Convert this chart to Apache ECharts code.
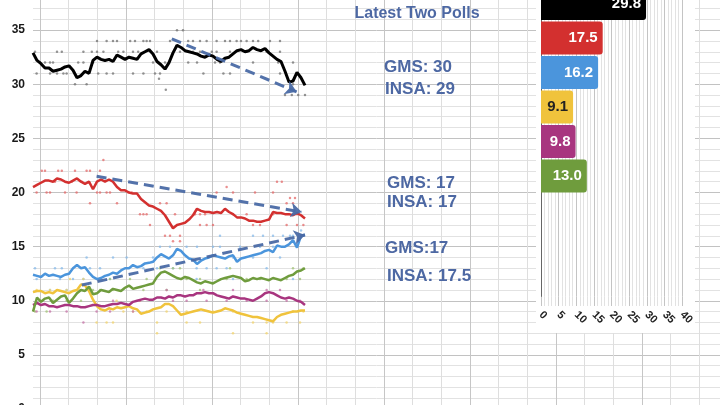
<!DOCTYPE html>
<html>
<head>
<meta charset="utf-8">
<script src="https://cdn.jsdelivr.net/npm/echarts@6/dist/echarts.min.js"></script>
<style>
  html, body { margin: 0; padding: 0; background: #fff; }
  #chart { width: 720px; height: 405px; }
</style>
</head>
<body>
<div id="chart"></div>
<script>
// rolling averages, one value per step (oldest -> newest)
const cduAvg = [32.9,32.2,31.9,31.5,31.5,31.2,31.3,31.4,31.6,31.7,31.3,30.6,30.8,31.2,31.0,32.2,32.5,32.3,32.2,32.3,32.1,32.7,32.5,32.3,32.5,32.4,32.3,32.8,33.0,33.2,32.8,32.1,31.8,31.4,32.0,32.9,33.6,33.4,33.1,33.0,32.9,32.8,32.6,32.5,32.7,32.6,32.3,32.1,32.4,32.5,32.8,33.1,33.2,33.0,33.1,33.4,33.2,33.1,33.3,32.9,32.6,32.3,32.1,31.2,30.2,30.3,31.1,30.6,29.9];
const spdAvg = [20.5,20.7,20.9,21.1,21.1,21.0,21.3,21.2,21.0,20.9,21.1,21.3,21.0,20.8,21.0,20.3,21.0,21.2,21.0,21.2,21.0,20.5,20.2,20.2,20.0,19.9,19.9,19.4,19.1,18.8,18.7,18.5,18.3,17.9,17.3,16.7,17.0,17.1,17.2,17.5,17.9,18.5,18.3,18.2,18.2,18.1,18.2,18.1,18.5,18.2,18.0,17.7,17.7,17.6,17.4,17.4,17.3,17.3,17.4,17.5,18.2,18.1,18.1,18.0,18.0,17.9,18.1,17.9,17.6];
const afdAvg = [12.4,12.3,12.2,12.5,12.3,12.4,12.3,12.2,12.4,12.5,13.0,13.3,13.0,13.1,12.6,12.2,12.0,12.1,12.3,12.4,12.6,12.5,12.8,13.0,13.0,13.3,13.1,13.2,13.45,13.5,13.6,14.0,14.3,14.1,13.9,14.2,14.8,14.6,14.2,13.9,13.8,13.4,13.7,13.9,14.0,14.2,14.1,14.0,13.9,14.1,14.2,13.6,13.9,14.0,14.1,14.2,14.3,14.4,14.6,14.7,14.5,15.1,15.0,15.0,15.2,15.6,14.9,16.0,16.1];
const grueneAvg = [9.0,10.3,9.9,10.2,10.3,9.8,10.1,10.4,10.5,9.8,10.2,10.7,11.0,10.9,11.3,10.6,10.7,11.0,10.9,10.8,11.1,11.0,10.9,11.2,11.4,11.1,11.2,11.3,11.4,11.5,11.6,12.2,12.6,12.7,12.5,12.3,12.1,12.0,12.2,12.1,11.9,11.7,11.6,11.8,11.7,11.6,11.8,12.0,12.1,12.2,12.3,12.2,12.1,11.8,11.9,12.1,12.0,12.1,12.0,11.9,12.1,12.0,11.9,12.1,12.3,12.4,12.7,12.8,13.0];
const fdpAvg = [10.8,10.9,10.9,10.7,10.8,10.7,11.0,10.9,10.8,10.7,10.9,11.0,11.5,11.4,10.9,10.1,9.5,9.2,9.1,9.3,9.2,9.4,9.3,9.4,9.5,9.3,9.2,8.8,8.9,9.0,9.2,9.3,9.4,9.7,9.7,9.5,9.1,8.7,8.8,8.9,9.0,9.1,9.2,9.1,9.0,8.9,9.0,9.1,9.3,9.2,9.1,8.9,8.8,8.7,8.6,8.5,8.5,8.4,8.3,8.2,8.1,8.5,8.7,8.8,8.9,9.0,9.0,9.1,9.1];
const linkeAvg = [9.6,9.8,9.6,9.7,9.5,9.5,9.4,9.5,9.6,9.6,9.5,9.5,9.4,9.4,9.5,9.6,9.6,9.5,9.5,9.6,9.7,9.7,9.8,9.7,9.6,9.9,10.0,10.1,10.2,10.1,10.1,10.3,10.3,10.2,10.4,10.3,10.5,10.5,10.4,10.5,10.5,10.7,10.7,10.8,10.7,10.7,10.5,10.4,10.3,10.2,10.4,10.3,10.2,10.2,10.1,10.0,10.2,10.4,10.7,10.8,10.7,10.5,10.3,10.2,10.3,10.2,10.0,9.9,9.6];

// single polls: [step, value]
const cduPolls = [[36,35],[37.5,35],
  [16,34],[18.4,34],[20,34],[21,34],[24.3,34],[25.5,34],[27.6,34],[28.4,34],[29.25,34],[34.25,34],[38.8,34],[40,34],[41.75,34],[43.4,34],[45.9,34],[48,34],[49.25,34],[50.9,34],[52,34],[53.4,34],[55,34],[56.3,34],[59.25,34],[61.75,34],
  [0.5,33],[6,33],[7.2,33],[12.6,33],[14.7,33],[16,33],[17.6,33],[21.3,33],[22.6,33],[25,33],[26.3,33],[31,33],[36.75,33],[40,33],[41.75,33],[44.7,33],[45.9,33],[49.25,33],[53.4,33],[58.4,33],[61.75,33],
  [1.75,32],[3,32],[4.25,32],[5,32],[11.3,32],[12.6,32],[15,32],[30,32],[33,32],[38.8,32],[41,32],[45.5,32],[46.75,32],[55,32],[61.3,32],[65,32],
  [0.9,31],[4.25,31],[6,31],[7.6,31],[8.4,31],[16.3,31],[18.4,31],[20,31],[25,31],[27.6,31],[30.5,31],[31.75,31],[42.6,31],[47.6,31],[49.25,31],[61.75,31],
  [31.5,30.5],[10.5,30],[13.4,30],[65,30],[33.2,29.5],[63,29],[64.7,29],[66.3,29],[68,29]];
const spdPolls = [[2.2,22],[3,22],[6.3,22],[7.2,22],[10.5,22],[13.4,22],[14.25,22],[16.75,22],[17.6,23],
  [0.9,20],[3.4,20],[4.25,20],[8,20],[10.9,20],[16,20],[16.75,20],[18.4,20],[19.25,20],[23.8,20],[24.7,20],[45.9,20],[50,20],[55.5,20],[60,20],
  [5.5,21],[9.7,21],[12.2,21],[61,21],[62.2,21],[48.4,20.5],
  [14.25,19],[21,19],[31.75,19],[33.4,19],[63.4,19],[65,19],[64.25,19.5],[65.5,19.5],
  [26.75,18],[27.6,18],[28.4,18],[35.5,18],[40.5,18],[41.75,18],[43,18],[50,18],[53.4,18],[60,18],[66,18],
  [29.25,17],[41.75,17],[43.4,17],[45,17],[55,17],[56.75,17],[63.4,17],[66,17],[67.6,17],
  [33,16],[34.25,16],[36.75,16],[35,15.5],[36.75,15.5]];
const afdPolls = [[46.75,16],[55,16],[57.5,16],[60,16],[62.5,16],[64.25,16],[65,16],[67,16.5],
  [31.75,15],[34.25,15],[38.4,15],[41,15],[45,15],[46.75,15],[51.75,15],[56.75,15],[60,15],[66,15],
  [13.4,14],[20,14],[23.4,14],[30,14],[50,14],[55,14],[61.75,14],
  [0.5,13],[5.5,13],[7.2,13],[14.25,13],[16.75,13],[27.6,13],[31,13],[35,13],[40.9,13],[43.4,13],[45.9,13],[48.4,13],[58.4,13],
  [0.9,12],[6.75,12],[10,12],[12.6,12],[16.75,12],[19.25,12],[40.9,12],[50,12],[65,12],
  [4.25,11],[8.4,11],[13.4,11]];
const gruenePolls = [[19.25,12],[24.25,12],[28.4,12],[38.4,12],[41.75,12],[48.4,12],[53.4,12],[56.75,12],[61,12],[63.4,12],[66.75,12],
  [15,11],[16.75,11],[20,11],[27.6,11],[33.4,11],[41.75,11],
  [1.75,10],[5,10],[8.4,10],[12,10],
  [31.75,13],[35,13],[36.75,13],[49.25,13],[65,13],[67.6,13],
  [0.5,9],[3.4,9]];
const fdpPolls = [[15.9,8],[18.4,8],[20,8],[31,8],[38.4,8],[41.75,8],[55,8],[58.4,8],[60,8],[63.4,8],[66.75,8],
  [31,7],[50,7],[58.4,7],
  [22.6,9],[25,9],[28.4,9],[33.4,9],[38.4,9],[45,9],[50,9],[65,9],[67.6,9],
  [20.9,10],[26.75,10],
  [0.9,11],[4.25,11],[8.4,11],[11.75,11],[13.4,11],[9.25,12],[12.6,12]];
const linkePolls = [[12.6,8],
  [0.9,9],[4.25,9],[8.4,9],[15.9,9],[19.25,9],[25,9],
  [20,10],[26.75,10],[35,10],[38.4,10],[43.4,10],[48.4,10],[53.4,10],[58.4,10],[63.4,10],[66.75,10],
  [33.4,11],[42.6,11],[50,11],[58.4,11],[61.75,11]];

// trend arrows: [start, end] as [step, value]
const cduTrend = [[34.7, 34.2], [65.9, 29.3]];
const spdTrend = [[15.9, 21.5], [67.2, 18.2]];
const afdTrend = [[12.2, 11.45], [68, 16.07]];

// latest values (bar panel)
const barNames = ['CDU/CSU', 'SPD', 'AfD', 'FDP', 'Linke', 'Grüne'];
const barValues = [29.8, 17.5, 16.2, 9.1, 9.8, 13.0];
const barColors = ['#000000', '#d3302f', '#4b95dc', '#f0c33c', '#a8357f', '#6f9c3d'];
const barLabelColors = ['#fff', '#fff', '#fff', '#222', '#fff', '#fff'];

const notes = [
  {text: 'Latest Two Polls', x: 417, y: 14, align: 'center', size: 16},
  {text: 'GMS: 30', x: 418, y: 67, align: 'center', size: 17},
  {text: 'INSA: 29', x: 420, y: 89, align: 'center', size: 17},
  {text: 'GMS: 17', x: 387, y: 183, align: 'left', size: 17},
  {text: 'INSA: 17', x: 387, y: 202, align: 'left', size: 17},
  {text: 'GMS:17', x: 385, y: 248, align: 'left', size: 17},
  {text: 'INSA: 17.5', x: 387, y: 276, align: 'left', size: 17},
];

const FONT = '"Liberation Sans", Arial, sans-serif';
const chart = echarts.init(document.getElementById('chart'));

const withStep = (arr) => arr.map((v, i) => [i, v]);
const arrow = (t) => ({
  silent: true,
  animation: false,
  symbol: ['none', 'arrow'],
  symbolSize: 11,
  label: {show: false},
  lineStyle: {type: [10, 6], width: 3, color: '#4a6aa5', opacity: 0.95},
  data: [[{coord: t[0]}, {coord: t[1]}]]
});
const avgLine = (name, data, color, width, trend) => ({
  name, type: 'line', data: withStep(data), xAxisIndex: 0, yAxisIndex: 0,
  showSymbol: false, z: 4, lineStyle: {color, width}, itemStyle: {color},
  markLine: trend ? arrow(trend) : undefined
});
const polls = (name, data, color) => ({
  name, type: 'scatter', data, xAxisIndex: 0, yAxisIndex: 0,
  symbolSize: 2.5, z: 3, itemStyle: {color, opacity: 0.75}
});

const option = {
  animation: false,
  backgroundColor: '#fff',
  textStyle: {fontFamily: FONT},
  grid: [
    {left: 33, right: 0, top: -24, bottom: -4, outerBoundsMode: 'none'},            // data + horizontal lines
    {left: 40, width: 688, top: -24, bottom: -4, outerBoundsMode: 'none'},          // vertical sheet lines
    {left: 541, width: 141, top: -13.75, bottom: 108.25, outerBoundsMode: 'none'}   // bar panel
  ],
  xAxis: [
    {gridIndex: 0, type: 'value', min: 0, max: 171.75, show: false, splitLine: {show: false}},
    {gridIndex: 1, type: 'value', min: 0, max: 24, interval: 3,
      axisLine: {show: false}, axisTick: {show: false}, axisLabel: {show: false},
      splitLine: {show: true, lineStyle: {color: '#c6c6c6', width: 1}},
      minorTick: {show: false, splitNumber: 3},
      minorSplitLine: {show: true, lineStyle: {color: '#dedede', width: 1}}},
    {gridIndex: 2, type: 'value', min: 0, max: 40, interval: 5, offset: 9.25, z: 6,
      axisLine: {show: false},
      axisTick: {show: true, inside: true, length: 9.25, lineStyle: {color: '#c4c4c4'}},
      minorTick: {show: true, splitNumber: 5, length: 9.25, lineStyle: {color: '#e2e2e2'}},
      axisLabel: {rotate: -45, margin: 7, color: '#222', fontWeight: 'bold', fontSize: 11, fontFamily: FONT,
        showMinLabel: true, showMaxLabel: true, hideOverlap: false},
      splitLine: {show: true, lineStyle: {color: '#c4c4c4'}},
      minorSplitLine: {show: true, lineStyle: {color: '#e2e2e2'}}}
  ],
  yAxis: [
    {gridIndex: 0, type: 'value', min: 0, max: 40, interval: 5,
      axisLine: {show: false}, axisTick: {show: false},
      axisLabel: {color: '#1a1a1a', fontWeight: 'bold', fontSize: 12, fontFamily: FONT, margin: 8},
      splitLine: {show: true, lineStyle: {color: '#c2c2c2'}},
      minorTick: {show: false, splitNumber: 5},
      minorSplitLine: {show: true, lineStyle: {color: '#e2e2e2'}}},
    {gridIndex: 1, type: 'value', min: 0, max: 40, show: false, splitLine: {show: false}},
    {gridIndex: 2, type: 'category', inverse: true, z: 6,
      data: barNames.concat(['', '', '']),
      axisLine: {show: true, lineStyle: {color: '#666', width: 1}},
      axisTick: {show: false}, axisLabel: {show: false}, splitLine: {show: false}}
  ],
  graphic: [
    {type: 'rect', z: 1, silent: true, shape: {x: 536, y: 0, width: 159, height: 333}, style: {fill: '#fff'}},
    ...notes.map((n) => ({
      type: 'text', z: 10, silent: true, x: n.x, y: n.y,
      style: {text: n.text, fill: '#4d68a3', font: 'bold ' + n.size + 'px ' + FONT, align: n.align, verticalAlign: 'middle'}
    }))
  ],
  series: [
    polls('CDU/CSU polls', cduPolls, '#707070'),
    polls('SPD polls', spdPolls, '#e46a6a'),
    polls('AfD polls', afdPolls, '#86b9ea'),
    polls('Grüne polls', gruenePolls, '#a0c274'),
    polls('FDP polls', fdpPolls, '#f2d36c'),
    polls('Linke polls', linkePolls, '#c470a6'),
    avgLine('FDP', fdpAvg, '#f0c33c', 2.5),
    avgLine('Linke', linkeAvg, '#a8357f', 2.5),
    avgLine('Grüne', grueneAvg, '#6f9c3d', 2.5),
    avgLine('AfD', afdAvg, '#4b95dc', 2.5, afdTrend),
    avgLine('SPD', spdAvg, '#d3302f', 2.5, spdTrend),
    avgLine('CDU/CSU', cduAvg, '#000000', 3, cduTrend),
    {
      name: 'Latest', type: 'bar', xAxisIndex: 2, yAxisIndex: 2, z: 7,
      barCategoryGap: '5%',
      data: barValues.map((v, i) => ({
        value: v,
        itemStyle: {color: barColors[i], borderRadius: [0, 3, 3, 0]},
        label: {color: barLabelColors[i]}
      })),
      label: {show: true, position: 'insideRight', distance: 5, fontWeight: 'bold', fontSize: 15, fontFamily: FONT,
        formatter: (p) => p.value.toFixed(1)}
    }
  ]
};
chart.setOption(option);
</script>
</body>
</html>
